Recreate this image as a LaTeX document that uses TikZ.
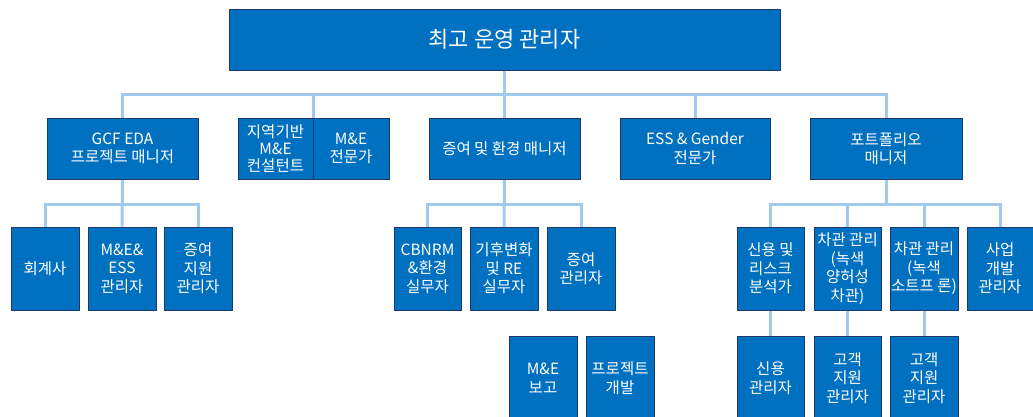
\documentclass[tikz,border=0pt]{standalone}
\usepackage{fontspec}
\newfontfamily\kr{Noto Sans CJK KR}
\usetikzlibrary{backgrounds}
\definecolor{boxblue}{HTML}{0070C0}
\definecolor{boxnavy}{HTML}{1F3864}
\definecolor{connblue}{HTML}{A2CAEC}
\begin{document}
\begin{tikzpicture}[x=1pt,y=-1pt,
  box/.style={draw=boxnavy, fill=boxblue, line width=0.9pt, text=white, align=center, inner sep=0pt,
    font=\kr\fontsize{15.5}{18.5}\selectfont},
  l2/.style={box, minimum height=61pt},
  l3/.style={box, minimum height=83pt},
  l4/.style={box, minimum height=84pt},
  conn/.style={connblue, line width=3pt}]
\useasboundingbox (0,0) rectangle (1033,417);
\clip (0,0) rectangle (1033,417);
% top
\node[box, minimum width=551pt, minimum height=61pt, font=\kr\fontsize{22}{26}\selectfont] (top) at (504.5,39.5) {최고 운영 관리자};
% level 2
\node[l2, minimum width=151pt] (gcf) at (122.5,148.5) {GCF EDA\\프로젝트 매니저};
\node[l2, minimum width=75pt, font=\kr\fontsize{15.5}{17}\selectfont] (geo) at (275.5,148.5) {지역기반\\M\&E\\컨설턴트};
\node[l2, minimum width=76pt] (mne) at (351,148.5) {M\&E\\전문가};
\node[l2, minimum width=151pt] (grant) at (504.5,148.5) {증여 및 환경 매니저};
\node[l2, minimum width=150pt] (essg) at (695,148.5) {ESS \& Gender\\전문가};
\node[l2, minimum width=152pt] (port) at (886,148.5) {포트폴리오\\매니저};
% level 3
\node[l3, minimum width=68pt] (acc) at (45,268.5) {회계사};
\node[l3, minimum width=68pt] (mees) at (122,268.5) {M\&E\&\\ESS\\관리자};
\node[l3, minimum width=68pt] (gsup) at (198,268.5) {증여\\지원\\관리자};
\node[l3, minimum width=67pt] (cbnrm) at (427.5,268.5) {CBNRM\\\&환경\\실무자};
\node[l3, minimum width=68pt] (clim) at (504,268.5) {기후변화\\및 RE\\실무자};
\node[l3, minimum width=68pt] (gmgr) at (581,268.5) {증여\\관리자};
\node[l3, minimum width=67pt] (credit) at (770.5,268.5) {신용 및\\리스크\\분석가};
\node[l3, minimum width=67pt] (loanA) at (847.5,268.5) {차관 관리\\(녹색\\양허성\\차관)};
\node[l3, minimum width=68pt] (loanB) at (924,268.5) {차관 관리\\(녹색\\소트프 론)};
\node[l3, minimum width=66pt] (biz) at (1000,268.5) {사업\\개발\\관리자};
% level 4
\node[l4, minimum width=68pt] (mer) at (543,378) {M\&E\\보고};
\node[l4, minimum width=68pt] (pdev) at (620,378) {프로젝트\\개발};
\node[l4, minimum width=67pt] (cmgr) at (770.5,378) {신용\\관리자};
\node[l4, minimum width=67pt] (csA) at (847.5,378) {고객\\지원\\관리자};
\node[l4, minimum width=68pt] (csB) at (924,378) {고객\\지원\\관리자};
% connectors
\begin{pgfonlayer}{background}
\draw[conn] (top.south) -- (grant.north);
\draw[conn] (gcf.north) -- ++(0,-23) -| (port.north);
\draw[conn] (geo.north east) -- ++(0,-23);
\draw[conn] (essg.north) -- ++(0,-23);
\draw[conn] (gcf.south) -- (mees.north);
\draw[conn] (acc.north) -- ++(0,-22) -| (gsup.north);
\draw[conn] (grant.south) -- (clim.north);
\draw[conn] (cbnrm.north) -- ++(0,-22) -| (gmgr.north);
\draw[conn] (port.south) -- ++(0,26);
\draw[conn] (credit.north) -- ++(0,-22) -| (biz.north);
\draw[conn] (loanA.north) -- ++(0,-22);
\draw[conn] (loanB.north) -- ++(0,-22);
\draw[conn] (credit.south) -- (cmgr.north);
\draw[conn] (loanA.south) -- (csA.north);
\draw[conn] (loanB.south) -- (csB.north);
\end{pgfonlayer}
\end{tikzpicture}
\end{document}
